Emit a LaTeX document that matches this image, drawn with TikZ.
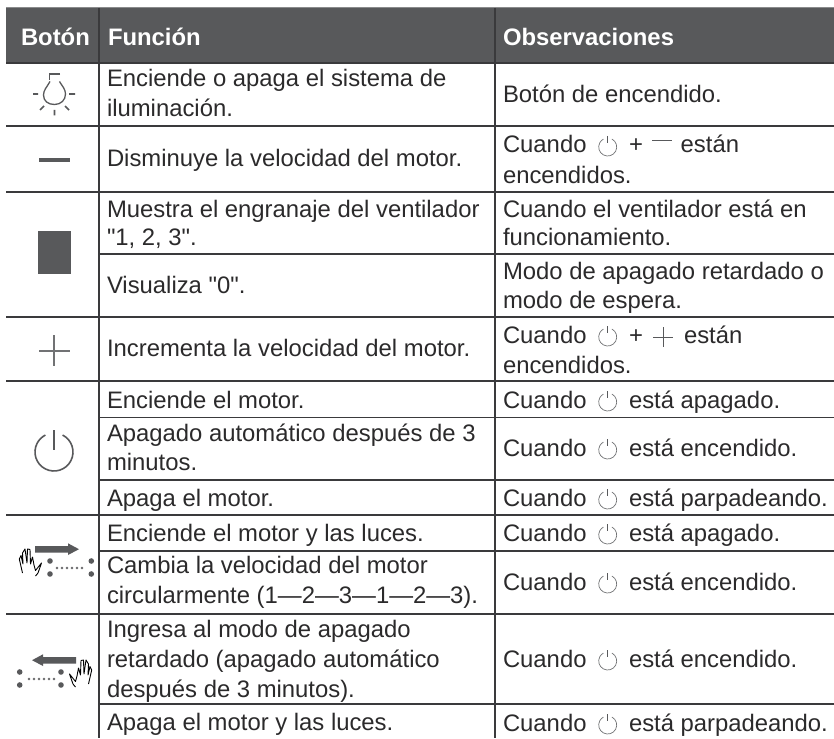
\documentclass[tikz,border=0pt]{standalone}
\usepackage{fontspec}
\newfontfamily\tabfont{Liberation Sans}
\definecolor{hdr}{HTML}{58595B}
\definecolor{rule}{HTML}{3A3A3C}
\definecolor{txt}{HTML}{2B2A2B}
\tikzset{
  txtn/.style={anchor=base west,inner sep=0pt,outer sep=0pt,text=txt,font=\tabfont\fontsize{23.85}{28}\selectfont},
  head/.style={anchor=base west,inner sep=0pt,outer sep=0pt,text=white,font=\tabfont\fontsize{23.85}{28}\selectfont\bfseries},
  hline/.style={draw=rule,line width=1.8pt},
  vline/.style={draw=rule,line width=1.8pt},
  ico/.style={draw=hdr,line width=1.6pt},
  smallpower/.pic={
    \draw[draw=hdr!85,line width=.7pt] (-62:9) arc[start angle=-62,end angle=242,radius=9];
    \draw[draw=hdr,line width=.9pt] (0,-11) -- (0,-3.7);
  },
  gesture/.pic={
    \fill[hdr] (35,-1.8) -- (68,-1.8) -- (68,-4.7) -- (79,1.2) -- (68,7) -- (68,4.5) -- (35,4.5) -- cycle;
    \draw[black,line width=.9pt,line join=round]
      (22.5,25) -- (19.3,11) -- (21,7.5) -- (23,16) -- (22.5,5) -- (25,1) -- (27,15) -- (27.5,1) -- (30,1.5) -- (30.5,16)
      -- (32.5,9) -- (34,17) -- (35.5,22.5) -- (41.5,15) -- (38,25) -- (35.5,28);
    \foreach \px/\py in {50/13,50/26,91.3/13,91.3/26} \fill[hdr] (\px,\py) circle[radius=2.8];
    \foreach \px in {57,62,67,72,77,82} \draw[hdr,line width=.5pt] (\px,20) circle[radius=1];
  },
}
\newcommand{\Pw}[2]{\pic at (#1,#2) {smallpower};}
\begin{document}
\begin{tikzpicture}[x=1pt,y=-1pt]
\useasboundingbox (0,0) rectangle (834,738);
\fill[white] (0,0) rectangle (834,738);
% header
\fill[hdr] (6,8) rectangle (834,63);
\draw[draw=hdr!70,line width=1pt] (6,8) -- (834,8);
% horizontal rules
\foreach \yy in {63,126,192,317,381,515,614} \draw[hline] (6,\yy) -- (834,\yy);
\foreach \yy in {254,417.5,480,551,704} \draw[hline] (99,\yy) -- (834,\yy);
% vertical rules
\draw[vline] (99,8) -- (99,738);
\draw[vline] (495,8) -- (495,738);
% header text
\node[head] (h1) at (21,46) {Botón};
\node[head] (h2) at (108,46) {Función};
\node[head] (h3) at (503,46) {Observaciones};
% function column
\node[txtn] (f1) at (107,87) {Enciende o apaga el sistema de};
\node[txtn] (f1b) at (107,117) {iluminación.};
\node[txtn] (f2) at (107,166) {Disminuye la velocidad del motor.};
\node[txtn] (f3) at (107,217) {Muestra el engranaje del ventilador};
\node[txtn] (f3b) at (107,245) {"1, 2, 3".};
\node[txtn] (f4) at (107,293) {Visualiza "0".};
\node[txtn] (f5) at (107,356) {Incrementa la velocidad del motor.};
\node[txtn] (f6) at (107,408) {Enciende el motor.};
\node[txtn] (f7) at (107,441) {Apagado automático después de 3};
\node[txtn] (f7b) at (107,470) {minutos.};
\node[txtn] (f8) at (107,506) {Apaga el motor.};
\node[txtn] (f9) at (107,541) {Enciende el motor y las luces.};
\node[txtn] (f10) at (107,573) {Cambia la velocidad del motor};
\node[txtn] (f10b) at (107,603) {circularmente (1—2—3—1—2—3).};
\node[txtn] (f11) at (107,637) {Ingresa al modo de apagado};
\node[txtn] (f11b) at (107,667) {retardado (apagado automático};
\node[txtn] (f11c) at (107,697) {después de 3 minutos).};
\node[txtn] (f12) at (107,730) {Apaga el motor y las luces.};
% observations column
\node[txtn] (o1) at (503,103) {Botón de encendido.};
\node[txtn] (o2) at (503,153) {Cuando};
\Pw{607.7}{147}
\node[txtn] (o2p) at (629,153) {+};
\draw[draw=hdr,line width=1pt] (652,141) -- (672,141);
\node[txtn] (o2e) at (680.7,153) {están};
\node[txtn] (o2b) at (503,183) {encendidos.};
\node[txtn] (o3) at (503,217) {Cuando el ventilador está en};
\node[txtn] (o3b) at (503,245) {funcionamiento.};
\node[txtn] (o4) at (503,279) {Modo de apagado retardado o};
\node[txtn] (o4b) at (503,308) {modo de espera.};
\node[txtn] (o5) at (503,343) {Cuando};
\Pw{607.7}{337}
\node[txtn] (o5p) at (629,343) {+};
\draw[draw=hdr,line width=1pt] (653,337) -- (673,337) (663,327) -- (663,347);
\node[txtn] (o5e) at (684,343) {están};
\node[txtn] (o5b) at (503,373) {encendidos.};
\foreach \yy/\tt [count=\n] in {408/está apagado.,456/está encendido.,506/está parpadeando.,541/está apagado.,590/está encendido.,667/está encendido.,731/está parpadeando.}{
  \node[txtn] (c\n) at (503,\yy) {Cuando};
  \pic at (607.7,\yy-6) {smallpower};
  \node[txtn] (e\n) at (629,\yy) {\tt};
}
% button icons: lamp
\draw[ico,line width=1.3pt] (60,74) -- (49.5,74) -- (49.5,80);
\draw[ico,line width=1.3pt] (50,81.5) .. controls (47,87) and (43.5,90) .. (43.5,95) .. controls (43.5,101) and (48,104.5) .. (54.5,104.5) .. controls (61,104.5) and (65.5,100) .. (65.5,94) .. controls (65.5,89) and (62,86) .. (59.5,81.5);
\draw[ico] (33,94) -- (38,94) (69,94) -- (75,94) (54.5,110) -- (54.5,115.5) (65,106) -- (69,110) (44,106) -- (40,110);
% minus
\fill[hdr] (39,158) rectangle (70,162);
% display
\fill[hdr] (38,231) rectangle (71,274);
% plus
\draw[draw=hdr!85,line width=2pt] (39,350.5) -- (69.5,350.5) (54.3,335) -- (54.3,366);
% power
\draw[draw=hdr,line width=1.6pt] (54,452) ++(-63:19) arc[start angle=-63,end angle=243,radius=19];
\draw[draw=hdr,line width=2.6pt] (54,430) -- (54,449.5);
% gesture icons
\pic at (0,548) {gesture};
\pic[xscale=-1] at (111,659) {gesture};
\end{tikzpicture}
\end{document}
